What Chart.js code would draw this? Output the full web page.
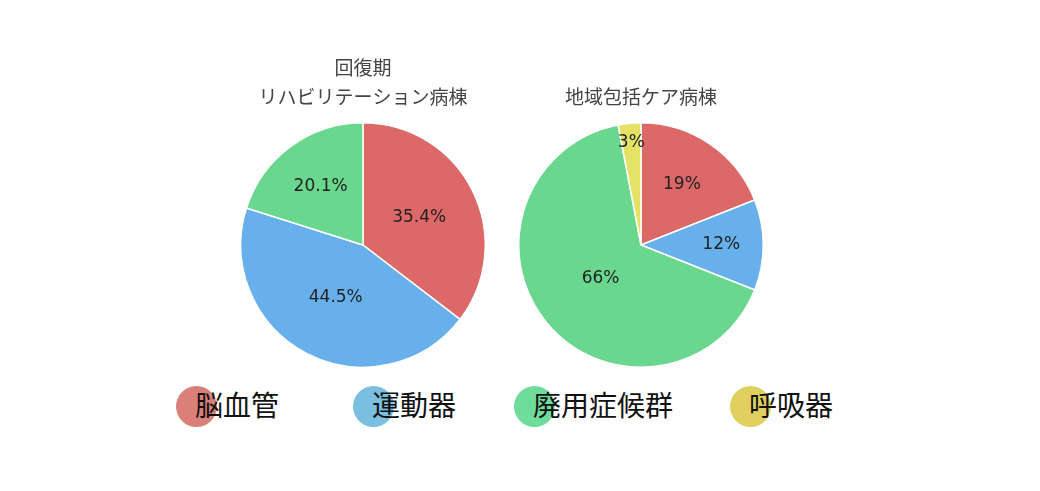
<!DOCTYPE html>
<html lang="ja">
<head>
<meta charset="utf-8">
<title>病棟別 疾患割合</title>
<script src="https://cdn.jsdelivr.net/npm/chart.js@4/dist/chart.umd.min.js"></script>
<style>
  html, body { margin: 0; padding: 0; background: #fff; }
  #wrap { position: relative; width: 1040px; height: 491px; overflow: hidden; }
  canvas { position: absolute; }
  #rehab { left: 224px; top: 40px; }
  #community { left: 502px; top: 40px; }
  .lg-dot { position: absolute; width: 41px; height: 41px; border-radius: 50%; top: 386px; }
  .lg-text {
    position: absolute; top: 384px; line-height: 40px; white-space: nowrap;
    font-family: "Noto Sans CJK JP", sans-serif; font-size: 28px; color: #111;
  }
</style>
</head>
<body>
<div id="wrap">
  <canvas id="rehab" width="278" height="328"></canvas>
  <canvas id="community" width="278" height="328"></canvas>
  <div id="legend"></div>
</div>
<script>
// categories / values
const categories = ['脳血管', '運動器', '廃用症候群', '呼吸器'];
const rehabValues = [35.4, 44.5, 20.1, 0];
const communityValues = [19, 12, 66, 3];

const rehabTitle = ['回復期', 'リハビリテーション病棟'];
const communityTitle = ['', '地域包括ケア病棟'];

const sliceColors = ['#dc6868', '#67b0eb', '#6ad78f', '#e4e265'];
const legendColors = ['#da8078', '#7bbfe0', '#6edc9a', '#e0d060'];
const legendLeft = [176, 353, 514, 730];

// percent labels inside the slices, pushed outward for smaller slices
const sliceLabels = {
  id: 'sliceLabels',
  afterDatasetsDraw(chart) {
    const ctx = chart.ctx;
    const ds = chart.data.datasets[0];
    const total = ds.data.reduce((a, b) => a + b, 0);
    const meta = chart.getDatasetMeta(0);
    ctx.save();
    ctx.font = '17px "DejaVu Sans", sans-serif';
    ctx.fillStyle = '#222';
    ctx.textAlign = 'center';
    ctx.textBaseline = 'middle';
    meta.data.forEach((arc, i) => {
      const v = ds.data[i];
      if (!v) return;
      const { x, y, startAngle, endAngle, outerRadius } = arc.getProps(['x', 'y', 'startAngle', 'endAngle', 'outerRadius'], true);
      const mid = (startAngle + endAngle) / 2;
      let f = 0.43 - 0.133 * (Math.log(v / total) + 0.42);
      f = Math.min(Math.max(f, 0.3), 0.88);
      const d = f * outerRadius;
      ctx.fillText(v + '%', x + Math.cos(mid) * d, y + Math.sin(mid) * d);
    });
    ctx.restore();
  },
};

function makePie(id, title, values) {
  return new Chart(document.getElementById(id), {
    type: 'pie',
    data: {
      labels: categories,
      datasets: [{
        data: values,
        backgroundColor: sliceColors,
        borderColor: '#fff',
        borderWidth: 1.5,
      }],
    },
    options: {
      responsive: false,
      animation: false,
      devicePixelRatio: 1,
      layout: { padding: 0 },
      plugins: {
        legend: { display: false },
        tooltip: { enabled: false },
        title: {
          display: true,
          text: title,
          color: '#444',
          font: { family: '"Noto Sans CJK JP", sans-serif', size: 19, weight: 'normal', lineHeight: 1.5 },
          padding: { top: 14, bottom: 11 },
        },
      },
    },
    plugins: [sliceLabels],
  });
}

makePie('rehab', rehabTitle, rehabValues);
makePie('community', communityTitle, communityValues);

// shared legend under both pies
const legend = document.getElementById('legend');
categories.forEach((name, i) => {
  const dot = document.createElement('div');
  dot.className = 'lg-dot';
  dot.style.left = legendLeft[i] + 'px';
  dot.style.background = legendColors[i];
  legend.appendChild(dot);
  const txt = document.createElement('div');
  txt.className = 'lg-text';
  txt.style.left = (legendLeft[i] + 19) + 'px';
  txt.textContent = name;
  legend.appendChild(txt);
});
</script>
</body>
</html>
